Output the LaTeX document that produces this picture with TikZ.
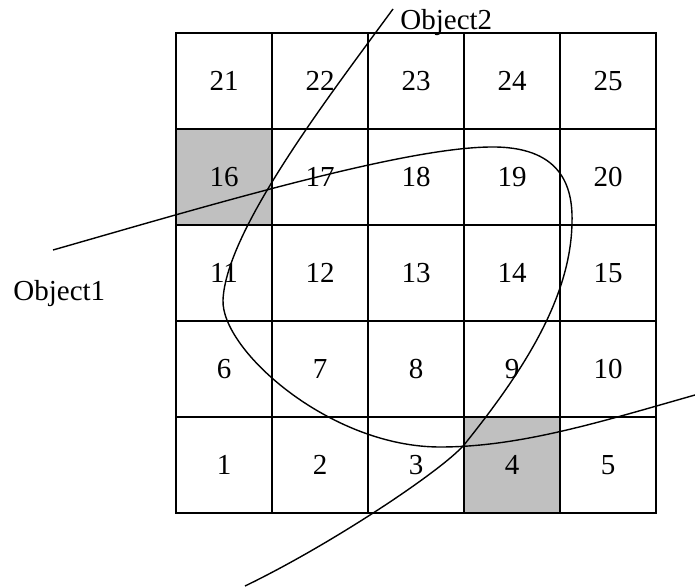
\documentclass[tikz,border=0pt]{standalone}
\usepackage{fontspec}
\setmainfont{Liberation Serif}
\usepackage{xcolor}
\definecolor{shade}{RGB}{192,192,192}

\begin{document}
\begin{tikzpicture}[x=0.5pt, y=-0.5pt, every node/.style={font=\fontsize{14.5}{16}\selectfont},
  cell/.style={draw, line width=0.8pt, minimum size=48pt, inner sep=0pt},
  track/.style={line width=0.7pt}]
\useasboundingbox (0,0) rectangle (695,588);
% grid of cells, numbered from the bottom left
\foreach \n in {1,...,25}{
  \pgfmathtruncatemacro{\col}{mod(\n-1,5)}
  \pgfmathtruncatemacro{\row}{(\n-1)/5}
  \pgfmathtruncatemacro{\tint}{(\n==4 || \n==16) ? 100 : 0}
  \node[cell, fill=shade!\tint!white] (cell\n) at ({224+96*\col},{465-96*\row}) {\n};
}
% object 1: enters from the left and loops down through 3
\draw[track] (53,250) .. controls (200,208) and (400,148) .. (490,147)
  .. controls (560,146) and (573,185) .. (572,222)
  .. controls (571,300) and (520,375) .. (464,445)
  .. controls (440,472) and (330,545) .. (245,586);
% object 2: enters from the top and leaves to the right
\draw[track] (393,9) .. controls (330,95) and (226,230) .. (223,300)
  .. controls (221,350) and (330,447) .. (440,447)
  .. controls (520,447) and (600,422) .. (695,395);
\node[anchor=base west, inner sep=0pt] (obj2) at (400,30) {Object2};
\node[anchor=base west, inner sep=0pt] (obj1) at (13,300) {Object1};
\end{tikzpicture}
\end{document}
